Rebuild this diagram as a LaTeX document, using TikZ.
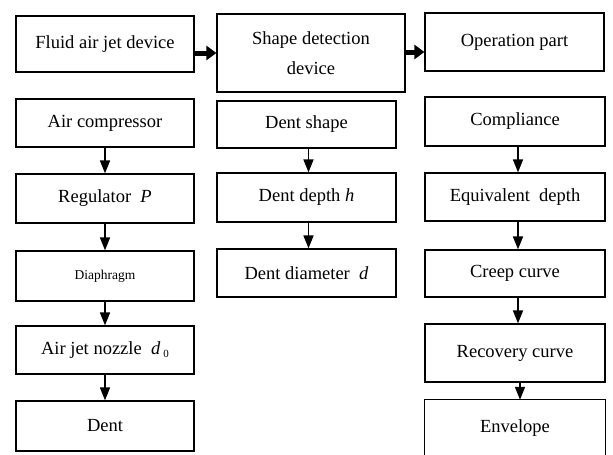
\documentclass[tikz,border=0pt]{standalone}
\usepackage{fontspec}
\setmainfont{Liberation Serif}
\usetikzlibrary{arrows.meta}
\begin{document}
\begin{tikzpicture}[x=1pt,y=-1pt,
  box/.style={draw, line width=1.2pt, inner sep=2pt, align=center,
    font=\fontsize{18.5}{30}\selectfont},
  openbox/.style={inner sep=2pt, align=center, font=\fontsize{18.5}{30}\selectfont},
  boxline/.style={line width=1.2pt},
  varrow/.style={line width=1.6pt, -{Triangle[width=10pt,length=13pt]}},
  harrow/.style={line width=5pt, -{Triangle[width=14pt,length=10pt]}}]
\useasboundingbox (0,0) rectangle (613,455);

% top row: the three stages
\node[box, minimum width=178pt, minimum height=56pt] (fluid) at (105,44) {Fluid air jet device};
\node[box, minimum width=188pt, minimum height=78pt] (shape) at (311,53) {Shape detection\\device};
\node[box, minimum width=179pt, minimum height=58pt] (oper) at (514.5,42) {Operation part};

% left column
\node[box, minimum width=178pt, minimum height=48pt] (comp) at (105,123) {Air compressor};
\node[box, minimum width=178pt, minimum height=49pt] (reg) at (105,198.5) {Regulator\ \ \textit{P}};
\node[box, minimum width=178pt, minimum height=50pt] (diaph) at (105,276) {\fontsize{13.5}{16}\selectfont Diaphragm};
\node[box, minimum width=178pt, minimum height=48pt] (nozzle) at (105,350) {Air jet nozzle\ \ \textit{d}\,\raisebox{-0.4ex}{\fontsize{11}{11}\selectfont 0}};
\node[box, minimum width=178pt, minimum height=50pt] (dent) at (105,426) {Dent};

% middle column
\node[box, minimum width=179pt, minimum height=47pt] (dshape) at (306.5,124.5) {Dent shape};
\node[box, minimum width=179pt, minimum height=49pt] (ddepth) at (306.5,197.5) {Dent depth \textit{h}};
\node[box, minimum width=179pt, minimum height=48pt] (ddiam) at (306.5,273) {Dent diameter\ \ \textit{d}};

% right column
\node[box, minimum width=180pt, minimum height=49pt] (compl) at (515,121.5) {Compliance};
\node[box, minimum width=180pt, minimum height=48pt] (equiv) at (515,197) {Equivalent\ \ depth};
\node[box, minimum width=180pt, minimum height=47pt] (creep) at (515,273.5) {Creep curve};
\node[box, minimum width=180pt, minimum height=58pt] (recov) at (515,353) {Recovery curve};
\node[openbox, minimum width=180pt, minimum height=56pt] (env) at (515,428) {Envelope};
\draw[boxline] (env.south west) -- (env.north west) -- (env.north east) -- (env.south east);

% links between the stages
\draw[harrow] (fluid.east |- shape.west) -- (shape.west);
\draw[harrow] (shape.east |- 0,52) -- (oper.west |- 0,52);

% flow inside each column
\draw[varrow] (comp.south) -- (reg.north);
\draw[varrow] (reg.south) -- (diaph.north);
\draw[varrow] (diaph.south) -- (nozzle.north);
\draw[varrow] (nozzle.south) -- (dent.north);

\draw[varrow] ([xshift=2pt]dshape.south) -- ([xshift=2pt]ddepth.north);
\draw[varrow] ([xshift=2pt]ddepth.south) -- ([xshift=2pt]ddiam.north);

\draw[varrow] ([xshift=3pt]compl.south) -- ([xshift=3pt]equiv.north);
\draw[varrow] ([xshift=3pt]equiv.south) -- ([xshift=3pt]creep.north);
\draw[varrow] ([xshift=3pt]creep.south) -- ([xshift=3pt]recov.north);
\draw[varrow] ([xshift=5pt]recov.south) -- ([xshift=5pt]env.north);
\end{tikzpicture}
\end{document}
